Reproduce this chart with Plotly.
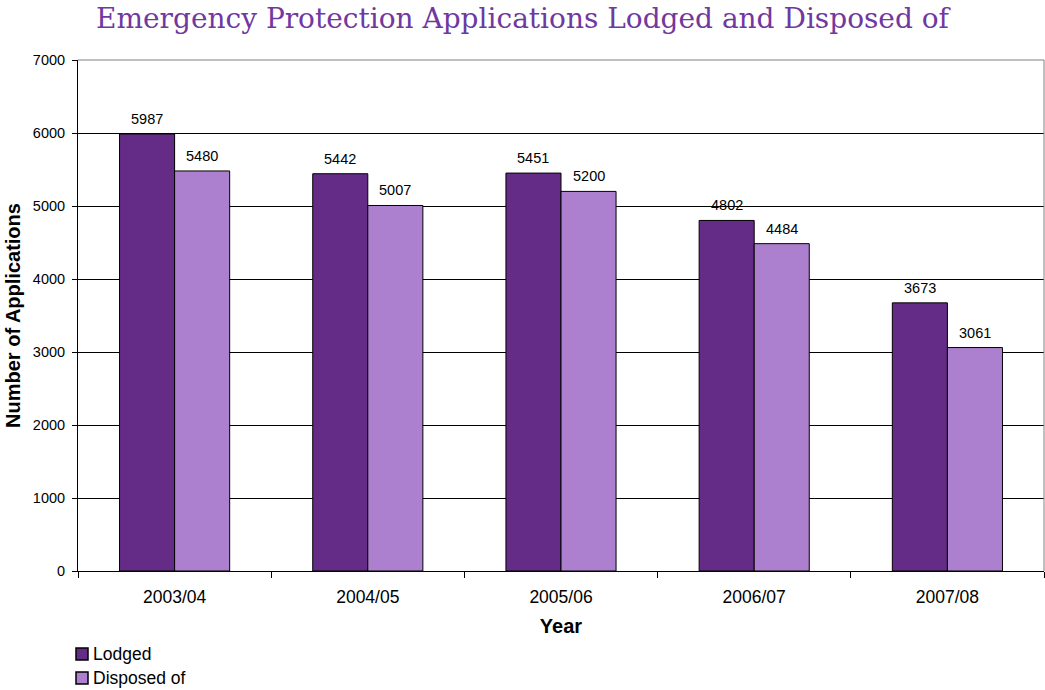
import plotly.graph_objects as go

years = ["2003/04", "2004/05", "2005/06", "2006/07", "2007/08"]
lodged = [5987, 5442, 5451, 4802, 3673]
disposed = [5480, 5007, 5200, 4484, 3061]
y_ticks = [0, 1000, 2000, 3000, 4000, 5000, 6000, 7000]

series_names = ["Lodged", "Disposed of"]
series_colors = ["#642C86", "#AD80CF"]

sans = "Liberation Sans, Arial, sans-serif"
label_font = dict(family=sans, size=14.5, color="black")

# plot area geometry in pixels (used for placing the key)
W, H = 1045, 690
L, R, T, B = 78, 1, 60, 119
plot_w, plot_h = W - L - R, H - T - B

fig = go.Figure()
for name, values, color in zip(series_names, [lodged, disposed], series_colors):
    fig.add_trace(go.Bar(
        x=years, y=values, name=name,
        marker=dict(color=color, line=dict(color="black", width=1)),
    ))

# value labels above each bar
bar_half = (1 - 0.43) / 2 * plot_w / len(years) / 2
for values, shift in zip([lodged, disposed], [-bar_half, bar_half]):
    for yr, v in zip(years, values):
        fig.add_annotation(x=yr, y=v, xshift=shift, yshift=15,
                           text=str(v), showarrow=False,
                           xanchor="center", yanchor="middle", font=label_font)

fig.update_layout(
    width=W, height=H,
    margin=dict(l=L, r=R, t=T, b=B, autoexpand=False),
    paper_bgcolor="white", plot_bgcolor="white",
    barmode="group", bargap=0.43, bargroupgap=0,
    title=dict(
        text="Emergency Protection Applications Lodged and Disposed of",
        font=dict(family="DejaVu Serif, Palatino, serif", size=28, color="#7038A0"),
        x=0.5, xanchor="center", y=0.974, yanchor="middle",
    ),
    font=dict(family=sans, size=14, color="black"),
    showlegend=False,
)

fig.update_xaxes(
    showline=True, linecolor="black", linewidth=1,
    ticks="outside", tickson="boundaries", ticklen=6, tickcolor="black",
    tickfont=dict(size=17.5), ticklabelstandoff=10,
    title=dict(text="<b>Year</b>", font=dict(size=20), standoff=12),
    showgrid=False,
)
fig.update_yaxes(
    range=[0, 7000], tickvals=y_ticks,
    showline=True, linecolor="black", linewidth=1,
    ticks="outside", ticklen=5, tickcolor="black",
    tickfont=dict(size=14.5), ticklabelstandoff=4,
    showgrid=True, gridcolor="black", gridwidth=1,
    zeroline=False,
    title=dict(text="<b>Number of Applications</b>", font=dict(size=20), standoff=6),
)

# gray frame on the top and right of the plotting area
fig.add_shape(type="line", xref="paper", yref="paper", x0=0, x1=1, y0=1, y1=1,
              line=dict(color="#808080", width=1), layer="above")
fig.add_shape(type="line", xref="paper", yref="paper", x0=1, x1=1, y0=0, y1=1,
              line=dict(color="#808080", width=1), layer="above")

# key below the chart: small outlined squares followed by the series names
def px_x(px):
    return (px - L) / plot_w

def px_y(py):
    return (H - B - py) / plot_h

key_rows_px = [654, 678]
for name, color, row in zip(series_names, series_colors, key_rows_px):
    fig.add_shape(type="rect", xref="paper", yref="paper",
                  x0=px_x(76), x1=px_x(88), y0=px_y(row + 6), y1=px_y(row - 6),
                  line=dict(color="black", width=1.5), fillcolor=color)
    fig.add_annotation(xref="paper", yref="paper",
                       x=px_x(91), y=px_y(row), xanchor="left", yanchor="middle",
                       text=name, showarrow=False,
                       font=dict(family=sans, size=17.5, color="black"))

fig.write_html("out.html")
